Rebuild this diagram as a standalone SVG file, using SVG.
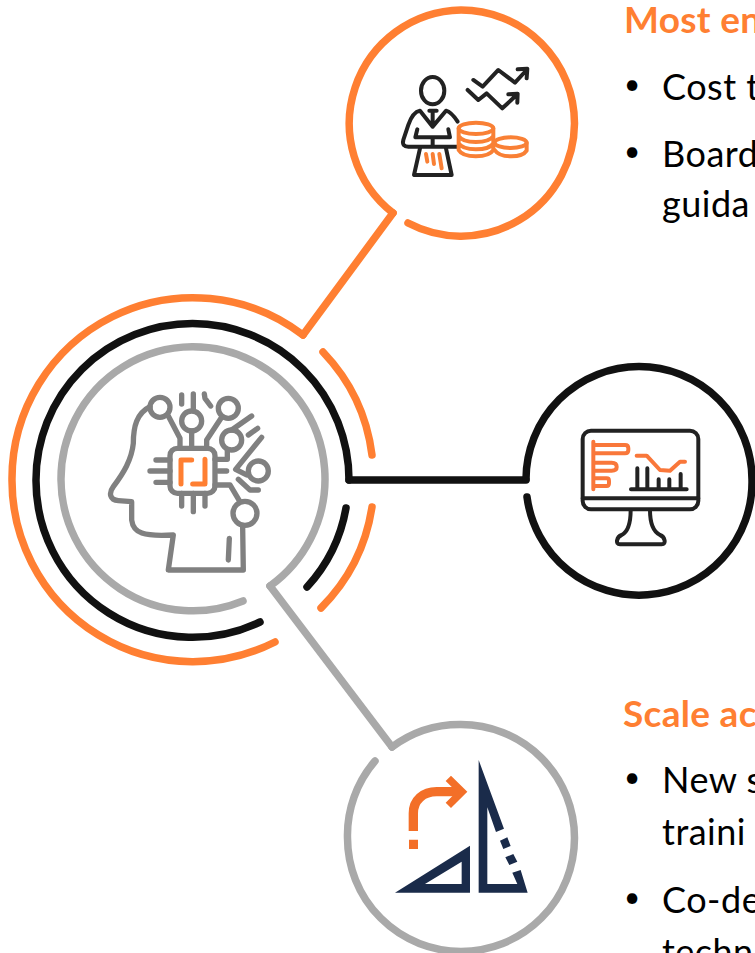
<svg xmlns="http://www.w3.org/2000/svg" width="755" height="953" viewBox="0 0 755 953">
<style>
.r{fill:none;stroke-width:7.5;stroke-linecap:round;stroke-linejoin:round}
.o{stroke:#FF7F32}.k{stroke:#111}.g{stroke:#A9A9A9}
.ic{fill:none;stroke-linecap:round;stroke-linejoin:round;stroke-width:12}
.dk{stroke:#222}.io{stroke:#F98035}.gy{stroke:#808080;stroke-width:16}
text{font-family:"Lato","Liberation Sans",sans-serif;font-size:36px;letter-spacing:.5px;fill:#000}
.h{font-weight:700;fill:#FF7F32;font-size:37px;letter-spacing:.3px}
.b{font-size:28px}
</style>
<rect width="755" height="953" fill="#fff"/>
<g id="connectors">
<path class="r o" d="M303,335L393,213"/>
<path class="r k" d="M349,480H526"/>
<path class="r g" d="M270,586L392,747"/>
</g>
<g id="node-ai">
<path class="r o" d="M275,642A181,181 0 0 1 12,480A181,181 0 0 1 303,335"/>
<path class="r o" d="M323,352A182,182 0 0 1 372,455"/>
<path class="r o" d="M372,507A182,182 0 0 1 321,608"/>
<path class="r k" d="M349,480A156.5,156.5 0 0 0 36,480A156.5,156.5 0 0 0 260,622"/>
<path class="r k" d="M346,508A157,157 0 0 1 307,587"/>
<path class="r g" d="M270,586A132,132 0 1 0 61,480A132,132 0 0 0 243,601"/>
<g transform="translate(90,380) scale(.3333)">
<g class="ic gy">
<path d="M180,80C140,100 130,140 130,190C125,240 100,280 70,320C55,340 60,360 85,362L125,365L125,420C130,460 160,470 250,465L235,570H460L458,440"/>
<circle cx="210" cy="82" r="30"/><circle cx="305" cy="123" r="30"/><circle cx="415" cy="85" r="30"/><circle cx="425" cy="180" r="30"/><circle cx="505" cy="273" r="30"/><circle cx="465" cy="400" r="36"/>
<rect x="240" y="205" width="135" height="135" rx="22"/>
<path d="M235,108L270,175V205M305,153V205M350,205V180L395,112M375,238H412V212M385,273H410M375,315H420L448,362M198,240H240M180,273H240M198,307H240M275,340V378M310,340V395M345,340V378M275,45V72M310,42V90M343,42L345,55L362,78M425,150L485,108M475,165L503,145M515,172L437,268L470,285M445,298L480,330H505M418,475L415,540"/>
</g>
<path class="ic" style="stroke:#FF7F32;stroke-width:15" d="M305,240H273V312M345,238V312H308"/>
</g>
</g>
<g id="node-top">
<path class="r o" d="M393,213A113.5,113.5 0 0 1 461,10A113.5,113.5 0 0 1 574.5,123.5A113.5,113.5 0 0 1 408,223"/>
<g transform="translate(340,0) scale(.3333)">
<g class="ic dk">
<ellipse cx="278" cy="272" rx="35" ry="41"/>
<path d="M353,365C340,345 330,335 318,332L278,380L240,332C225,335 215,345 205,375L190,420Q185,440 205,440H352M232,388L226,412H330L325,388M268,332H290M278,335V380M278,415V440M240,445L222,525H335L318,445"/>
<path d="M400,240L428,260L475,210L525,248L560,210M533,208L562,206L560,235M383,270L415,300L440,280L487,325L532,283M505,283L533,281L532,308"/>
</g>
<g class="ic io">
<path d="M258,462L262,485M278,462L282,492M298,462L305,505"/>
<ellipse cx="408" cy="385" rx="52" ry="17"/>
<path d="M356,385V450C370,475 445,475 460,450V385M356,408C370,432 445,432 460,408M356,430C370,454 445,454 460,430"/>
<ellipse cx="512" cy="428" rx="48" ry="16"/>
<path d="M464,450C480,475 545,475 560,452V428"/>
</g>
</g>
</g>
<g id="node-mid">
<path class="r k" d="M526,479A113,113 0 0 1 639,366.500A113,113 0 0 1 752,480A113,113 0 0 1 527,497"/>
<g transform="translate(560,410) scale(.3333)">
<g class="ic dk">
<rect x="68" y="62" width="347" height="236" rx="25"/>
<path d="M68,265H415M212,300C212,340 205,365 185,375C170,380 165,403 180,403H305C320,403 315,380 300,375C280,365 270,340 270,300M213,238H380M232,175V238M262,175V238M296,208V238M328,208V238M362,192V238"/>
</g>
<path class="ic" style="stroke:#F9773A" d="M100,95V238M100,105H195Q205,105 205,115V120Q205,130 195,130H100M100,158H155Q170,158 170,170V172Q170,182 155,182H100M100,205H140Q147,205 147,212V220Q147,228 140,228H100M230,137H260L300,180L330,182L360,155H375"/>
</g>
</g>
<g id="node-bottom">
<path class="r g" d="M392,747A113.5,113.5 0 0 1 461,724.5A113.5,113.5 0 0 1 574.5,838A113.5,113.5 0 0 1 347.5,838A113.5,113.5 0 0 1 375,761"/>
<g transform="translate(380,750) scale(.3333)">
<path fill="#1A2B4A" fill-rule="evenodd" d="M45,428L270,287V428ZM135,402H245V335Z"/>
<path fill="#1A2B4A" d="M296,30L372,236L348,246L322,172V402H412L397,368L422,360L443,428H296ZM360,272L382,262L392,288L370,297ZM376,322L400,312L412,335L388,345Z"/>
<path fill="none" stroke="#F36F28" stroke-width="28" d="M100,243V190C100,150 130,125 170,125H240"/>
<path fill="#F36F28" d="M213,77L262,125L213,174L197,158L230,125L197,93ZM87,269H114V297H87Z"/>
</g>
</g>
<g id="text-top">
<text class="h" x="624" y="33">Most en</text>
<text class="b" x="624" y="94">•</text><text x="662" y="100">Cost t</text>
<text class="b" x="624" y="161">•</text><text x="662" y="167">Board</text>
<text x="662" y="217">guida</text>
</g>
<g id="text-bottom">
<text class="h" x="623" y="727">Scale ac</text>
<text class="b" x="624" y="787">•</text><text x="662" y="793">New s</text>
<text x="662" y="845">traini</text>
<text class="b" x="624" y="907">•</text><text x="662" y="913">Co-de</text>
<text x="662" y="965">techn</text>
</g>
</svg>
